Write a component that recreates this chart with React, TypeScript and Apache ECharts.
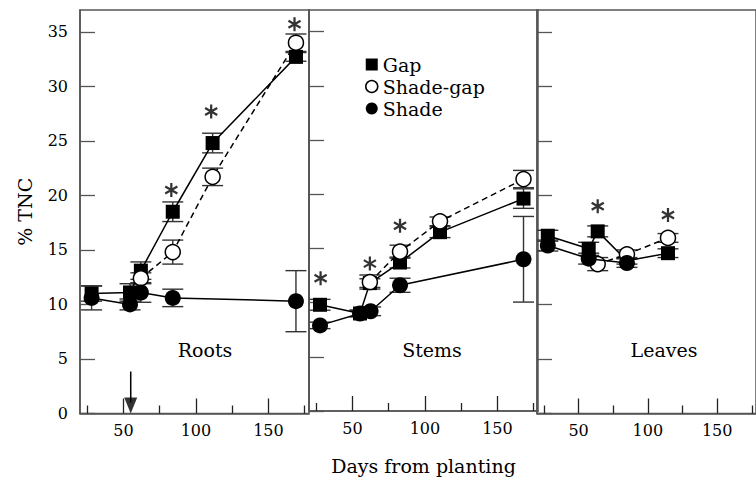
import React, { useEffect, useRef } from 'react';
import * as echarts from 'echarts';

const FONT = 'DejaVu Serif';

// Axis ticks
const X_MIN = 20;
const X_MAX = 178;
const Y_MIN = 0;
const Y_MAX = 37;
const X_MAJOR_TICKS = [50, 100, 150];
const X_MINOR_TICKS = [25, 75, 125, 175];
const Y_TICKS = [0, 5, 10, 15, 20, 25, 30, 35];

const PANEL_NAMES = ['Roots', 'Stems', 'Leaves'];
const SERIES_NAMES = ['Gap', 'Shade-gap', 'Shade'];

// [day, mean % TNC, s.e.]
const rootsGap = [[28, 11.0, 0.7], [54.5, 11.1, 0.8], [62, 13.1, 0.8], [84, 18.5, 0.9], [111.5, 24.8, 0.9], [169, 32.7, 0.4]];
const rootsShadeGap = [[62, 12.4, 0.5], [84, 14.8, 1.1], [111.5, 21.7, 0.8], [169, 34.0, 0.8]];
const rootsShade = [[28, 10.6, 1.1], [54.5, 10.0, 0.5], [62, 11.1, 0.9], [84, 10.6, 0.8], [169, 10.3, 2.8]];

const stemsGap = [[27.6, 9.8, 0.5], [55.2, 9.0, 0.3], [62, 11.8, 0.4], [82.8, 13.7, 0.5], [110.4, 16.5, 0.5], [168, 19.6, 0.9]];
const stemsShadeGap = [[62, 11.9, 0.65], [82.8, 14.7, 0.6], [110.4, 17.5, 0.4], [168, 21.4, 0.8]];
const stemsShade = [[27.6, 7.9, 0.3], [55.2, 9.0, 0.3], [62.5, 9.2, 0.4], [82.8, 11.6, 0.65], [168, 14.0, 3.95]];

const leavesGap = [[27.8, 16.3, 0.5], [57.3, 15.1, 0.6], [63.8, 16.7, 0.5], [84.9, 14.0, 0.3], [114.5, 14.7, 0.4]];
const leavesShadeGap = [[63.8, 13.7, 0.6], [84.9, 14.6, 0.4], [114.5, 16.1, 0.4]];
const leavesShade = [[27.8, 15.4, 0.5], [57.3, 14.2, 0.5], [84.9, 13.8, 0.4]];

// significance asterisks [day, y]
const rootsStars = [[83, 20.5], [110.5, 27.7], [168, 35.7]];
const stemsStars = [[28, 12.25], [62, 13.6], [82.8, 17.1]];
const leavesStars = [[63.8, 19.0], [114.5, 18.2]];

// transfer arrow (roots panel)
const TRANSFER_DAY = 55;
const ARROW_TOP = 3.85;

const PANELS = [
  { gap: rootsGap, shadeGap: rootsShadeGap, shade: rootsShade, stars: rootsStars },
  { gap: stemsGap, shadeGap: stemsShadeGap, shade: stemsShade, stars: stemsStars },
  { gap: leavesGap, shadeGap: leavesShadeGap, shade: leavesShade, stars: leavesStars },
];

// layout
const GRID_LEFTS = [80, 309, 537];
const GRID_WIDTH = 229;
const GRID_TOP = 10;
const GRID_HEIGHT = 403.5;
const LABEL_POS = [[205, 350], [432, 350], [664, 350]];

const AXIS_COLOR = '#555';
const STAR_PATH =
  'path://M-0.16,-1L0.16,-1L0.16,1L-0.16,1Z' +
  'M0.946,0.361L0.786,0.639L-0.946,-0.361L-0.786,-0.639Z' +
  'M0.786,-0.639L0.946,-0.361L-0.786,0.639L-0.946,0.361Z';

function buildOption() {
  const grids = GRID_LEFTS.map((left) => ({
    left,
    top: GRID_TOP,
    width: GRID_WIDTH,
    height: GRID_HEIGHT,
    show: true,
    borderColor: AXIS_COLOR,
    borderWidth: 1.5,
    backgroundColor: 'transparent',
    containLabel: false,
  }));

  const xAxes: any[] = [];
  GRID_LEFTS.forEach((_, i) => {
    xAxes.push({
      type: 'value',
      gridIndex: i,
      min: X_MIN,
      max: X_MAX,
      position: 'bottom',
      axisLine: { show: true, lineStyle: { color: AXIS_COLOR, width: 1.5 } },
      axisTick: {
        show: true,
        inside: true,
        length: 15,
        customValues: X_MAJOR_TICKS,
        lineStyle: { color: '#222', width: 1.3 },
      },
      axisLabel: {
        show: true,
        customValues: X_MAJOR_TICKS,
        fontFamily: FONT,
        fontSize: 16,
        color: '#000',
        margin: 9,
      },
      splitLine: { show: false },
      name: i === 1 ? 'Days from planting' : '',
      nameLocation: 'middle',
      nameGap: 45,
      nameTextStyle: { fontFamily: FONT, fontSize: 19, color: '#000' },
    });
  });
  GRID_LEFTS.forEach((_, i) => {
    xAxes.push({
      type: 'value',
      gridIndex: i,
      min: X_MIN,
      max: X_MAX,
      position: 'bottom',
      axisLine: { show: false },
      axisTick: {
        show: true,
        inside: true,
        length: 8,
        customValues: X_MINOR_TICKS,
        lineStyle: { color: '#222', width: 1.3 },
      },
      axisLabel: { show: false },
      splitLine: { show: false },
    });
  });

  const yAxes = GRID_LEFTS.map((_, i) => ({
    type: 'value',
    gridIndex: i,
    min: Y_MIN,
    max: Y_MAX,
    interval: 5,
    axisLine: { show: true, lineStyle: { color: AXIS_COLOR, width: 1.5 } },
    axisTick: {
      show: true,
      inside: true,
      length: 15,
      customValues: Y_TICKS,
      lineStyle: { color: AXIS_COLOR, width: 1.3 },
    },
    axisLabel: {
      show: i === 0,
      customValues: Y_TICKS,
      fontFamily: FONT,
      fontSize: 16,
      color: '#000',
      margin: 12,
    },
    splitLine: { show: false },
    name: i === 0 ? '% TNC' : '',
    nameLocation: 'middle',
    nameGap: 46,
    nameRotate: 90,
    nameTextStyle: { fontFamily: FONT, fontSize: 19, color: '#000' },
  }));

  const series: any[] = [];
  PANELS.forEach((p, i) => {
    const bars = [...p.gap, ...p.shadeGap, ...p.shade].map(([d, m, s]) => [d, m - s, m + s]);
    series.push({
      type: 'custom',
      name: 'errorbars' + i,
      xAxisIndex: i,
      yAxisIndex: i,
      z: 1,
      silent: true,
      clip: false,
      encode: { x: 0, y: [1, 2] },
      data: bars,
      renderItem: (params: any, api: any) => {
        const x = api.value(0);
        const top = api.coord([x, api.value(2)]);
        const bot = api.coord([x, api.value(1)]);
        const hw = 10.5;
        const style = { stroke: '#333', lineWidth: 1.4 };
        return {
          type: 'group',
          children: [
            { type: 'line', shape: { x1: top[0], y1: top[1], x2: bot[0], y2: bot[1] }, style },
            { type: 'line', shape: { x1: top[0] - hw, y1: top[1], x2: top[0] + hw, y2: top[1] }, style },
            { type: 'line', shape: { x1: bot[0] - hw, y1: bot[1], x2: bot[0] + hw, y2: bot[1] }, style },
          ],
        };
      },
    });
    series.push({
      type: 'line',
      name: SERIES_NAMES[0],
      xAxisIndex: i,
      yAxisIndex: i,
      z: 2,
      data: p.gap.map(([d, m]) => [d, m]),
      symbol: 'rect',
      symbolSize: 14,
      lineStyle: { color: '#000', width: 1.5 },
      itemStyle: { color: '#000' },
    });
    series.push({
      type: 'line',
      name: SERIES_NAMES[1],
      xAxisIndex: i,
      yAxisIndex: i,
      z: 3,
      data: p.shadeGap.map(([d, m]) => [d, m]),
      symbol: 'circle',
      symbolSize: 15,
      lineStyle: { color: '#000', width: 1.5, type: [6, 4] },
      itemStyle: { color: '#fff', borderColor: '#000', borderWidth: 1.5 },
    });
    series.push({
      type: 'line',
      name: SERIES_NAMES[2],
      xAxisIndex: i,
      yAxisIndex: i,
      z: 4,
      data: p.shade.map(([d, m]) => [d, m]),
      symbol: 'circle',
      symbolSize: 16,
      lineStyle: { color: '#000', width: 1.5 },
      itemStyle: { color: '#000' },
    });
    series.push({
      type: 'scatter',
      name: 'stars' + i,
      xAxisIndex: i,
      yAxisIndex: i,
      z: 5,
      silent: true,
      data: p.stars,
      symbol: STAR_PATH,
      symbolSize: 14,
      symbolKeepAspect: true,
      itemStyle: { color: '#000' },
    });
  });

  // transfer arrow
  series.push({
    type: 'line',
    name: 'arrowShaft',
    xAxisIndex: 0,
    yAxisIndex: 0,
    silent: true,
    showSymbol: false,
    symbol: 'none',
    data: [[TRANSFER_DAY, ARROW_TOP], [TRANSFER_DAY, 1.0]],
    lineStyle: { color: '#000', width: 1.5 },
    z: 5,
  });
  series.push({
    type: 'scatter',
    name: 'arrowHead',
    xAxisIndex: 0,
    yAxisIndex: 0,
    silent: true,
    data: [[TRANSFER_DAY, Y_MIN]],
    symbol: 'triangle',
    symbolRotate: 180,
    symbolSize: [13, 16],
    symbolOffset: [0, -8],
    itemStyle: { color: '#000' },
    z: 5,
  });

  const graphic = PANEL_NAMES.map((name, i) => ({
    type: 'text',
    x: LABEL_POS[i][0],
    y: LABEL_POS[i][1],
    silent: true,
    style: {
      text: name,
      fontFamily: FONT,
      fontSize: 19,
      fill: '#000',
      align: 'center',
      verticalAlign: 'middle',
    },
  }));

  return {
    animation: false,
    backgroundColor: '#fff',
    grid: grids,
    xAxis: xAxes,
    yAxis: yAxes,
    legend: {
      orient: 'vertical',
      left: 365,
      top: 55,
      itemWidth: 12,
      itemHeight: 12,
      itemGap: 3,
      padding: 0,
      selectedMode: false,
      textStyle: { fontFamily: FONT, fontSize: 19, color: '#000' },
      data: [
        { name: SERIES_NAMES[0], icon: 'rect', itemStyle: { color: '#000', borderWidth: 0 } },
        { name: SERIES_NAMES[1], icon: 'circle', itemStyle: { color: '#fff', borderColor: '#000', borderWidth: 1.5 } },
        { name: SERIES_NAMES[2], icon: 'circle', itemStyle: { color: '#000', borderWidth: 0 } },
      ],
    },
    graphic,
    series,
  };
}

export default function App() {
  const ref = useRef<HTMLDivElement>(null);
  useEffect(() => {
    const chart = echarts.init(ref.current as HTMLDivElement, null, { renderer: 'svg' });
    chart.setOption(buildOption() as any);
    return () => chart.dispose();
  }, []);
  return (
    <div
      ref={ref}
      style={{ position: 'fixed', left: 0, top: 0, width: 756, height: 480, background: '#fff' }}
    />
  );
}
